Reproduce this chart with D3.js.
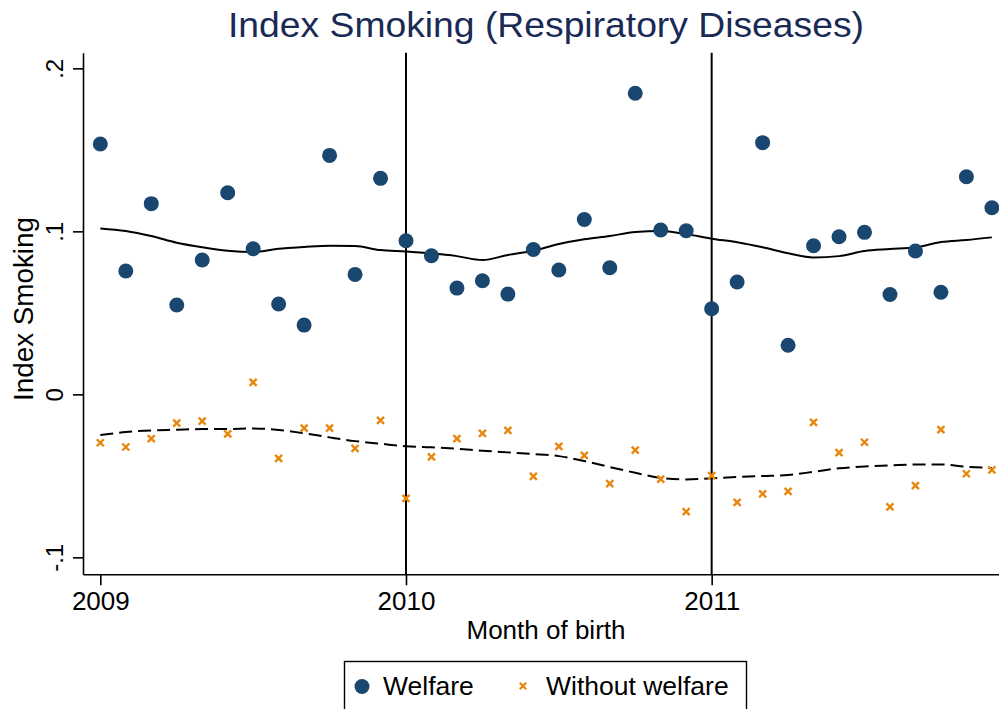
<!DOCTYPE html>
<html>
<head>
<meta charset="utf-8">
<script src="https://cdn.jsdelivr.net/npm/d3@7"></script>
<style>
  html, body { margin: 0; padding: 0; background: #fff; }
  svg { display: block; }
  text { font-family: "Liberation Sans", Arial, sans-serif; }
</style>
</head>
<body>
<svg id="chart" width="999" height="709"></svg>
<script>
// ---- data (month index 0 = Jan 2009 ... 35 = Dec 2011) ----
const months = d3.range(36);
const welfare = [0.1536,0.0757,0.117,0.0548,0.0824,0.1237,0.0893,0.0554,0.0425,0.1466,0.0736,0.1325,
                 0.0942,0.085,0.0652,0.0697,0.0615,0.0889,0.0763,0.1073,0.0777,0.1847,0.1008,0.1004,
                 0.0525,0.0689,0.1544,0.0301,0.0912,0.0967,0.0994,0.0613,0.0879,0.0626,0.1335,0.1145];
const withoutWelfare = [-0.0297,-0.0323,-0.0272,-0.0176,-0.0164,-0.0242,0.0074,-0.0393,-0.0207,-0.0207,-0.0331,-0.016,
                 -0.0638,-0.0383,-0.0272,-0.0239,-0.0221,-0.0503,-0.0319,-0.0374,-0.0548,-0.0342,-0.052,-0.072,
                 -0.0499,-0.0663,-0.061,-0.0595,-0.0172,-0.0358,-0.0294,-0.069,-0.056,-0.0217,-0.0487,-0.0463];
const welfareFit = [0.1018,0.1002,0.0971,0.093,0.0902,0.0881,0.0873,0.0893,0.0904,0.0912,0.091,0.0885,
                 0.0877,0.0865,0.0848,0.0824,0.0855,0.0881,0.0922,0.0951,0.0971,0.0996,0.1002,0.0983,
                 0.0955,0.0933,0.0902,0.0865,0.084,0.0848,0.0879,0.0891,0.0902,0.0934,0.0947,0.0963];
const withoutFit = [-0.025,-0.0231,-0.0221,-0.0217,-0.0213,-0.0213,-0.0209,-0.0219,-0.0239,-0.0264,-0.0287,-0.0303,
                 -0.0319,-0.0325,-0.0334,-0.0346,-0.0356,-0.0366,-0.0379,-0.0409,-0.0446,-0.0481,-0.0512,-0.0522,
                 -0.0515,-0.0507,-0.0501,-0.0495,-0.0475,-0.0454,-0.0442,-0.0436,-0.043,-0.043,-0.0444,-0.0452];
const xTickValues = [0, 12, 24];
const xTickLabels = ["2009", "2010", "2011"];
const yTickValues = [-0.1, 0, 0.1, 0.2];
const yTickLabels = ["-.1", "0", ".1", ".2"];
const refLines = [12, 24];
const seriesNames = ["Welfare", "Without welfare"];

// ---- layout ----
const navy = "#1a476f", orange = "#e8870e";
const svg = d3.select("#chart");
const pLeft = 83, pRight = 999, pTop = 52.7, pBottom = 574.3;

const x = d3.scaleLinear().domain([-0.68, 35.28]).range([pLeft, pRight]);
const y = d3.scaleLinear().domain([-0.1104, 0.2096]).range([pBottom, pTop]);

// reference lines
svg.append("g").selectAll("line").data(refLines).join("line")
  .attr("x1", d => x(d)).attr("x2", d => x(d))
  .attr("y1", pTop).attr("y2", pBottom)
  .attr("stroke", "#000").attr("stroke-width", 2);

// axes
const yAxis = d3.axisLeft(y).tickValues(yTickValues)
  .tickFormat((d, i) => yTickLabels[i]).tickSize(10).tickSizeOuter(0);
const gy = svg.append("g").attr("transform", `translate(${pLeft},0)`).call(yAxis);
gy.select(".domain").attr("stroke", "#000").attr("stroke-width", 1.6);
gy.selectAll(".tick line").attr("stroke", "#000").attr("stroke-width", 1.6);
gy.selectAll(".tick text")
  .attr("font-size", 24).attr("fill", "#000")
  .attr("font-family", "Liberation Sans, Arial, sans-serif")
  .attr("text-anchor", "middle")
  .attr("transform", "rotate(-90)")
  .attr("x", 0).attr("y", -20).attr("dy", 0);

const xAxis = d3.axisBottom(x).tickValues(xTickValues)
  .tickFormat((d, i) => xTickLabels[i]).tickSize(11).tickSizeOuter(0);
const gx = svg.append("g").attr("transform", `translate(0,${pBottom})`).call(xAxis);
gx.select(".domain").attr("stroke", "#000").attr("stroke-width", 1.6);
gx.selectAll(".tick line").attr("stroke", "#000").attr("stroke-width", 1.6);
gx.selectAll(".tick text").attr("font-size", 26).attr("fill", "#000")
  .attr("font-family", "Liberation Sans, Arial, sans-serif")
  .attr("y", 17).attr("dy", "0.71em");

// fit lines
const line = vals => d3.line().x((d, i) => x(months[i])).y(d => y(d)).curve(d3.curveMonotoneX)(vals);
svg.append("path").attr("d", line(welfareFit)).attr("fill", "none")
  .attr("stroke", "#000").attr("stroke-width", 2);
svg.append("path").attr("d", line(withoutFit)).attr("fill", "none")
  .attr("stroke", "#000").attr("stroke-width", 2).attr("stroke-dasharray", "13,6");

// welfare dots
svg.append("g").selectAll("circle").data(welfare).join("circle")
  .attr("cx", (d, i) => x(months[i])).attr("cy", d => y(d)).attr("r", 7.5)
  .attr("fill", navy);

// without-welfare x markers
const xMark = (cx, cy, s) => `M${cx - s},${cy - s}L${cx + s},${cy + s}M${cx - s},${cy + s}L${cx + s},${cy - s}`;
svg.append("g").selectAll("path").data(withoutWelfare).join("path")
  .attr("d", (d, i) => xMark(x(months[i]), y(d), 3.5))
  .attr("stroke", orange).attr("stroke-width", 2.4).attr("fill", "none");

// titles
svg.append("text").attr("x", 546).attr("y", 37).attr("text-anchor", "middle")
  .attr("font-size", 35).attr("fill", "#1a2a55")
  .attr("textLength", 636).attr("lengthAdjust", "spacingAndGlyphs")
  .text("Index Smoking (Respiratory Diseases)");
svg.append("text").attr("transform", `translate(33,309) rotate(-90)`)
  .attr("text-anchor", "middle").attr("font-size", 27).attr("fill", "#000")
  .attr("textLength", 184).attr("lengthAdjust", "spacingAndGlyphs")
  .text("Index Smoking");
svg.append("text").attr("x", 546).attr("y", 639).attr("text-anchor", "middle")
  .attr("font-size", 26).attr("fill", "#000").text("Month of birth");

// legend
const lg = svg.append("g");
lg.append("rect").attr("x", 344.5).attr("y", 661.5).attr("width", 402).attr("height", 60)
  .attr("fill", "#fff").attr("stroke", "#000").attr("stroke-width", 1.4);
lg.append("circle").attr("cx", 362).attr("cy", 686.5).attr("r", 7.5).attr("fill", navy);
lg.append("text").attr("x", 383).attr("y", 695).attr("font-size", 26.5).attr("fill", "#000").text(seriesNames[0]);
lg.append("path").attr("d", xMark(523, 686, 3.2)).attr("stroke", orange).attr("stroke-width", 2.2);
lg.append("text").attr("x", 546).attr("y", 695).attr("font-size", 26.5).attr("fill", "#000").text(seriesNames[1]);
</script>
</body>
</html>
